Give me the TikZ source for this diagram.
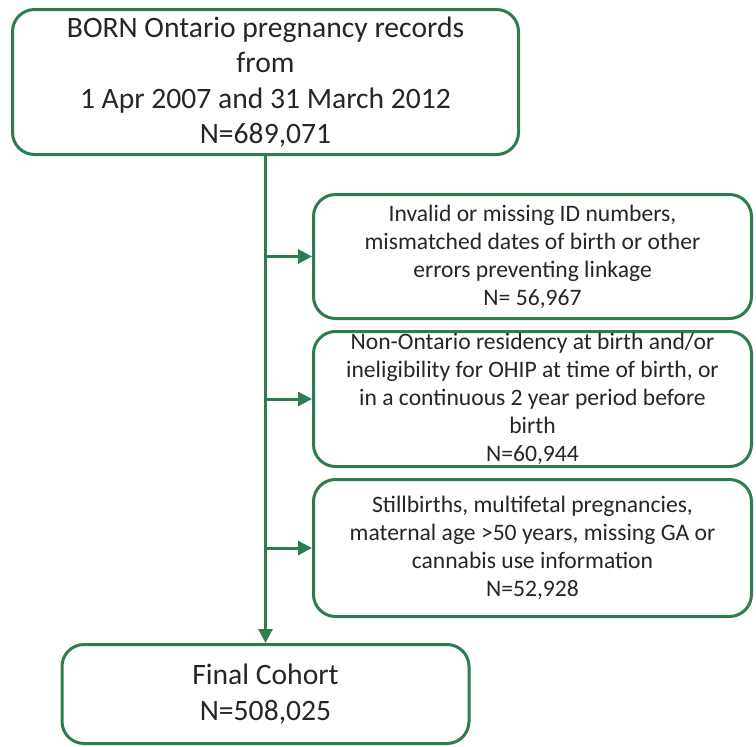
\documentclass[tikz,border=0pt]{standalone}
\usepackage{fontspec}
\setmainfont{Carlito}
\usepackage{xcolor}
\usetikzlibrary{arrows.meta}

\begin{document}
\begin{tikzpicture}[x=1pt,y=-1pt,
  flowbox/.style={draw=boxGreen,line width=3pt,rounded corners=22pt,fill=white,
    align=center,inner sep=0pt,text=black!85},
  bigtext/.style={font=\fontsize{29.6}{35.3}\selectfont},
  smalltext/.style={font=\fontsize{23.6}{28}\selectfont},
  flowarrow/.style={draw=boxGreen,line width=3pt,-{Triangle[length=14pt,width=14pt]}}]
\definecolor{boxGreen}{RGB}{46,125,80}
\useasboundingbox (0,0) rectangle (756,747);
\node[flowbox,bigtext,minimum width=506pt,minimum height=145pt] (records) at (265.5,82)
  {BORN Ontario pregnancy records\\from\\1 Apr 2007 and 31 March 2012\\N=689,071};
\node[flowbox,smalltext,minimum width=438pt,minimum height=124pt] (linkage) at (532.5,256.5)
  {Invalid or missing ID numbers,\\mismatched dates of birth or other\\errors preventing linkage\\N= 56,967};
\node[flowbox,smalltext,minimum width=438pt,minimum height=135pt] (residency) at (532.5,399)
  {Non-Ontario residency at birth and/or\\ineligibility for OHIP at time of birth, or\\in a continuous 2 year period before\\birth\\N=60,944};
\node[flowbox,smalltext,minimum width=438pt,minimum height=137pt] (stillbirths) at (532.5,548)
  {Stillbirths, multifetal pregnancies,\\maternal age >50 years, missing GA or\\cannabis use information\\N=52,928};
\node[flowbox,bigtext,minimum width=407pt,minimum height=99pt] (cohort) at (265.5,694)
  {Final Cohort\\N=508,025};
% trunk and exclusions
\draw[flowarrow] (records.south) -- (cohort.north);
\coordinate (split1) at (records.south |- linkage.west);
\coordinate (split2) at (records.south |- residency.west);
\coordinate (split3) at (records.south |- stillbirths.west);
\draw[flowarrow] (split1) -- (linkage.west);
\draw[flowarrow] (split2) -- (residency.west);
\draw[flowarrow] (split3) -- (stillbirths.west);
\end{tikzpicture}
\end{document}
